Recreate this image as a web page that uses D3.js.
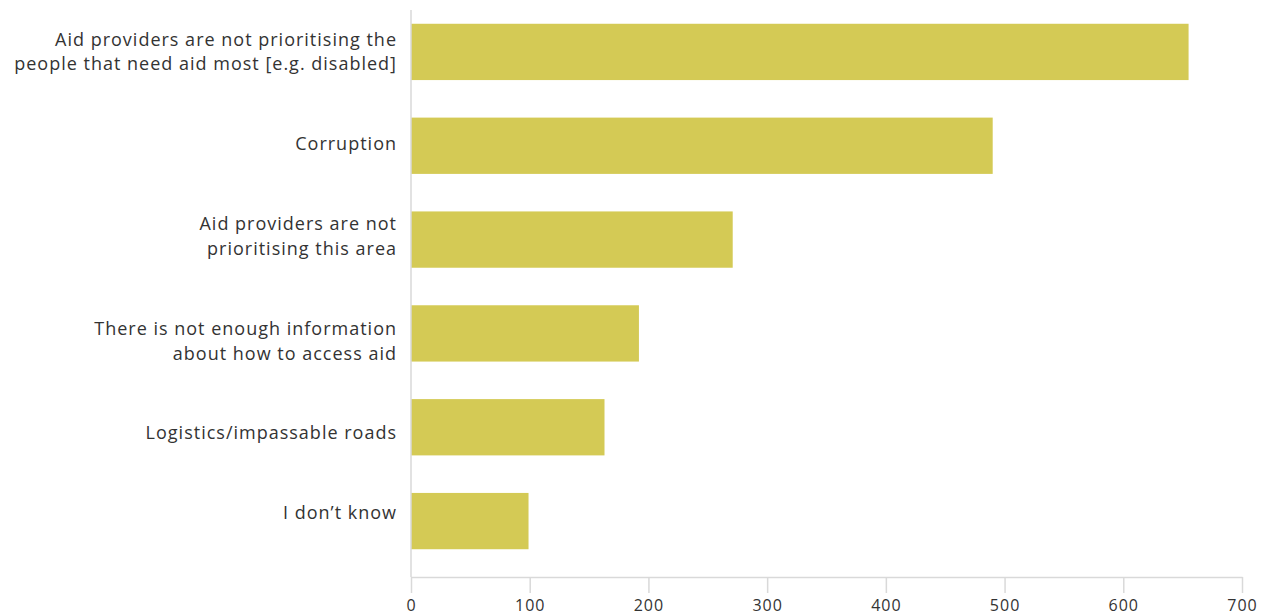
<!DOCTYPE html>
<html>
<head>
<meta charset="utf-8">
<script src="https://cdn.jsdelivr.net/npm/d3@7"></script>
<style>
  body { margin: 0; background: #fff; }
  svg text { font-family: "Open Sans", sans-serif; fill: #333; }
</style>
</head>
<body>
<div id="chart"></div>
<script>
// Data
const categories = [
  ["Aid providers are not prioritising the", "people that need aid most [e.g. disabled]"],
  ["Corruption"],
  ["Aid providers are not", "prioritising this area"],
  ["There is not enough information", "about how to access aid"],
  ["Logistics/impassable roads"],
  ["I don\u2019t know"]
];
const values = [655, 490, 271, 192, 163, 99];
const xTicks = [0, 100, 200, 300, 400, 500, 600, 700];

// label nudges (px) so they sit where the original puts them
const labelShift = [0, -2, -3.5, 8, 5, -8.5];

const W = 1270, H = 615;
const plot = {left: 411, right: 1242, top: 10, bottom: 577};

const svg = d3.select("#chart").append("svg")
  .attr("width", W)
  .attr("height", H);

const x = d3.scaleLinear()
  .domain([0, 700])
  .range([plot.left, plot.right]);

const y = d3.scaleBand()
  .domain(d3.range(categories.length))
  .range([5, 568])
  .paddingInner(0.4)
  .paddingOuter(0.2);

// Bars
svg.selectAll(".bar")
  .data(values)
  .enter()
  .append("rect")
  .attr("class", "bar")
  .attr("x", x(0))
  .attr("y", (d, i) => y(i))
  .attr("width", d => x(d) - x(0))
  .attr("height", y.bandwidth())
  .attr("fill", "#d4ca55");

// Vertical axis line
svg.append("line")
  .attr("x1", plot.left).attr("x2", plot.left)
  .attr("y1", plot.top).attr("y2", plot.bottom)
  .attr("stroke", "#d9d9d9")
  .attr("stroke-width", 1.5);

// X axis
const xAxis = svg.append("g")
  .attr("transform", `translate(0,${plot.bottom})`)
  .call(d3.axisBottom(x).tickValues(xTicks).tickSize(16).tickSizeOuter(0));

xAxis.select(".domain").attr("stroke", "#d9d9d9").attr("stroke-width", 1.5);
xAxis.selectAll(".tick line").attr("stroke", "#d9d9d9").attr("stroke-width", 1.5);
xAxis.selectAll(".tick text")
  .attr("y", 34)
  .attr("dy", null)
  .style("font-size", "16px")
  .style("letter-spacing", "1px")
  .style("fill", "#333")
  .style("font-family", "'Open Sans', sans-serif");

// Category labels
const labels = svg.selectAll(".cat")
  .data(categories)
  .enter()
  .append("text")
  .attr("class", "cat")
  .attr("text-anchor", "end")
  .style("font-size", "18px")
  .style("letter-spacing", "1px");

labels.each(function(lines, i) {
  const cy = y(i) + y.bandwidth() / 2 + labelShift[i];
  const lh = 24.5;
  const start = cy - (lines.length - 1) * lh / 2;
  d3.select(this).selectAll("tspan")
    .data(lines)
    .enter()
    .append("tspan")
    .attr("x", 397)
    .attr("y", (d, j) => start + j * lh)
    .attr("dy", "0.35em")
    .text(d => d);
});
</script>
</body>
</html>
